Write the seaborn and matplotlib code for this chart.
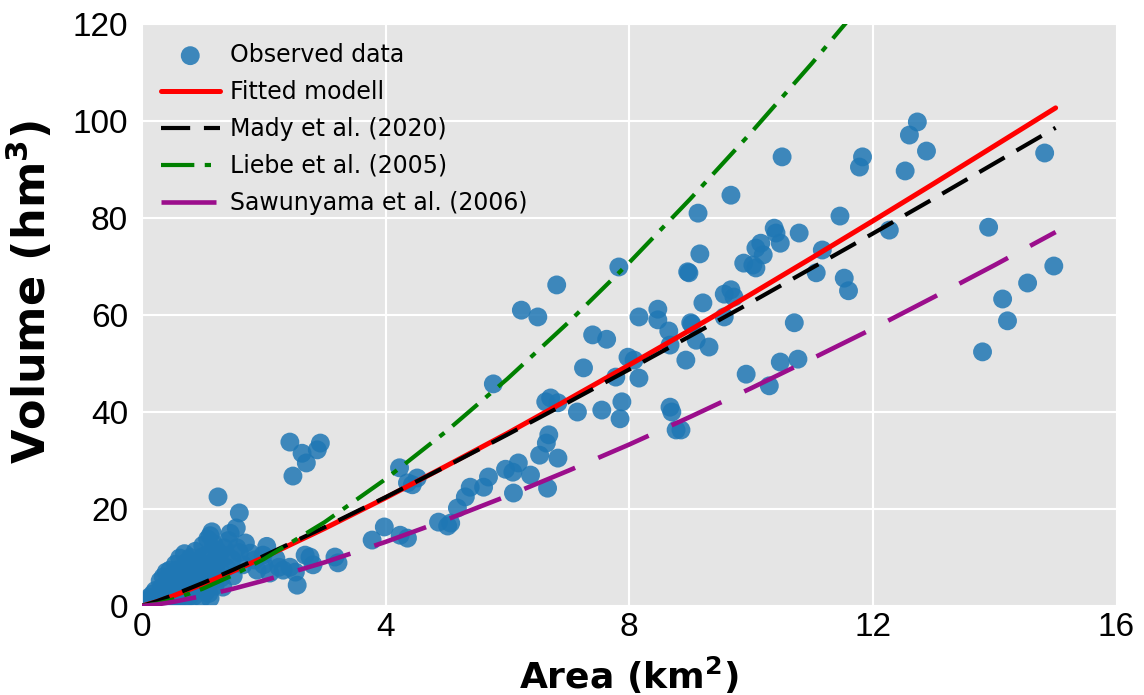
import numpy as np
import pandas as pd
import matplotlib
matplotlib.use("Agg")
import matplotlib.pyplot as plt
import seaborn as sns

# ---------------------------------------------------------------
# Observed reservoirs (area in km2, volume in hm3)
# ---------------------------------------------------------------
area = [
    0.00, 0.03, 0.05, 0.08, 0.10, 0.12, 0.15, 0.18, 0.20, 0.22, 0.25, 0.27,
    0.30, 0.32, 0.35, 0.35, 0.37, 0.40, 0.42, 0.45, 0.46, 0.47, 0.50, 0.52,
    0.55, 0.57, 0.58, 0.60, 0.62, 0.63, 0.65, 0.68, 0.70, 0.72, 0.74, 0.76,
    0.80, 0.82, 0.85, 0.88, 0.90, 0.92, 0.95, 0.98, 1.00, 1.02, 1.05, 1.08,
    1.10, 1.12, 1.15, 1.17, 1.20, 1.23, 1.25, 1.28, 1.33, 1.40, 1.45, 1.50,
    1.55, 1.56, 1.60, 1.66, 1.78, 1.89, 1.99, 2.10, 2.32, 2.55,
    0.30, 0.40, 0.45, 0.50, 0.55, 0.60, 0.65, 0.70, 0.75, 0.78, 0.80, 0.85,
    0.88, 0.90, 0.95, 1.00, 1.02, 1.05, 1.08, 1.10, 1.12, 1.18, 1.20, 1.22,
    1.28, 1.30, 1.35, 1.38, 1.42, 1.48, 1.60, 1.70, 1.85, 2.00, 2.05, 2.20,
    2.25,
    2.43, 2.63, 2.93, 2.88, 2.70, 2.48, 2.76, 2.81, 2.68, 2.43, 2.52, 3.17,
    3.22, 3.78, 3.98, 4.24, 4.36, 4.23, 4.36, 4.52, 4.44, 4.87, 5.02, 5.07,
    5.18, 5.31, 5.39, 5.61, 5.69, 5.97, 6.09, 6.18, 6.38, 6.10, 6.66, 6.53,
    6.83, 6.64, 6.68, 5.77, 6.71, 6.83, 6.63, 7.15, 7.55, 7.88, 7.85, 8.67,
    8.70, 8.77, 8.85, 6.23, 6.50, 6.81, 7.83, 7.40, 7.63, 7.25, 7.98, 8.08,
    8.16, 7.78, 8.16, 8.47, 8.47, 8.65, 9.03, 8.67, 8.98, 8.93, 9.10, 9.31,
    9.01, 9.21, 9.56, 9.72, 9.56, 9.67, 9.16, 8.96, 9.13, 9.67, 9.88, 10.03,
    10.08, 10.08, 10.16, 10.20, 10.38, 10.41, 10.48, 10.79, 10.51, 10.71, 9.92,
    10.48, 10.77, 10.30, 11.17, 11.07, 11.53, 11.60, 11.46, 11.83, 11.78,
    12.27, 12.53, 12.60, 12.73, 12.88, 13.90, 13.80, 14.13, 14.21, 14.54,
    14.82, 14.97,
]
volume = [
    0.2, 0.8, 0.3, 1.2, 0.5, 1.8, 0.4, 2.5, 1.0, 3.2, 0.6, 2.0,
    1.4, 3.8, 0.8, 6.0, 2.6, 4.5, 1.2, 3.1, 7.4, 6.0, 0.9, 2.2,
    4.0, 7.4, 5.4, 1.5, 9.9, 5.4, 2.8, 0.9, 3.6, 8.9, 6.4, 1.8,
    4.6, 2.5, 9.2, 5.6, 8.0, 3.3, 6.0, 1.6, 10.2, 4.2, 7.1, 13.8,
    2.6, 1.6, 15.3, 5.4, 9.5, 11.5, 22.5, 7.6, 3.9, 10.4, 15.0, 6.2,
    16.1, 12.0, 19.2, 8.5, 10.9, 7.4, 10.5, 6.8, 7.4, 4.3,
    5.2, 7.0, 2.2, 5.8, 8.6, 3.8, 6.8, 10.8, 4.0, 7.6, 10.0, 2.0,
    11.3, 4.6, 9.2, 12.5, 6.4, 3.0, 10.5, 7.8, 14.5, 12.8, 4.2, 8.4,
    10.8, 5.8, 12.0, 8.0, 13.5, 9.6, 11.0, 13.0, 9.5, 8.5, 12.3, 9.8,
    8.0,
    33.8, 31.5, 33.6, 32.2, 29.5, 26.8, 10.1, 8.5, 10.5, 8.0, 7.0, 10.1,
    8.9, 13.6, 16.3, 14.6, 14.0, 28.5, 25.4, 26.4, 25.0, 17.3, 16.5, 17.1,
    20.2, 22.5, 24.5, 24.5, 26.6, 28.2, 27.6, 29.5, 27.0, 23.3, 24.3, 31.1,
    30.5, 33.6, 35.3, 45.8, 42.9, 41.9, 42.1, 40.0, 40.4, 42.1, 38.6, 41.0,
    40.0, 36.3, 36.3, 61.0, 59.6, 66.2, 69.9, 55.9, 55.0, 49.1, 51.3, 50.7,
    47.0, 47.2, 59.6, 61.2, 59.0, 56.7, 58.1, 53.8, 68.7, 50.7, 54.8, 53.4,
    58.4, 62.5, 59.6, 63.7, 64.3, 65.2, 72.6, 68.9, 81.0, 84.7, 70.7, 70.3,
    69.7, 73.8, 74.8, 72.4, 77.9, 76.9, 74.8, 76.9, 92.6, 58.4, 47.8,
    50.3, 50.9, 45.4, 73.4, 68.7, 67.6, 65.0, 80.4, 92.6, 90.5,
    77.5, 89.7, 97.1, 99.8, 93.8, 78.1, 52.4, 63.3, 58.8, 66.6,
    93.4, 70.1,
]

# ---------------------------------------------------------------
# Model curves, values at these areas
# ---------------------------------------------------------------
curve_area = [0, 0.25, 0.5, 1, 1.5, 2, 3, 4, 5, 6, 7, 8, 9, 10, 11, 12, 13, 14, 15]
fitted = [0, 0.91, 2.02, 4.5, 7.19, 10.02, 16.0, 22.3, 28.9, 35.6, 42.6, 49.7,
          56.9, 64.3, 71.8, 79.4, 87.1, 94.9, 102.7]
mady = [0, 1.01, 2.19, 4.75, 7.48, 10.32, 16.26, 22.44, 28.81, 35.34, 42.0, 48.77,
        55.65, 62.6, 69.7, 76.8, 84.0, 91.3, 98.6]
liebe_area = [0, 0.25, 0.5, 1, 1.5, 2, 3, 4, 5, 6, 7, 8, 9, 10, 11, 12]
liebe = [0, 0.49, 1.32, 3.57, 6.39, 9.66, 17.3, 26.16, 36.05, 46.84, 58.45, 70.8,
         83.9, 97.6, 111.9, 126.8]
sawunyama = [0, 0.33, 0.83, 2.08, 3.57, 5.24, 9.01, 13.22, 17.8, 22.7, 27.9, 33.3,
             39.0, 44.9, 51.0, 57.2, 63.7, 70.3, 77.1]

obs = pd.DataFrame({"Area": area, "Volume": volume})

sns.set_theme(style="darkgrid", rc={
    "axes.facecolor": "#E5E5E5",
    "grid.color": "white",
    "grid.linewidth": 1.5,
})
plt.rcParams["font.family"] = ["Liberation Sans", "DejaVu Sans"]

fig = plt.figure(figsize=(11.44, 6.95), dpi=100)
ax = fig.add_axes([0.124, 0.128, 0.852, 0.8375])

sns.scatterplot(data=obs, x="Area", y="Volume", ax=ax, s=185, color="#1f77b4",
                alpha=0.85, edgecolor="none", label="Observed data", zorder=2)

sns.lineplot(x=curve_area, y=fitted, ax=ax, color="red", lw=3.6,
             label="Fitted modell", zorder=3)
sns.lineplot(x=curve_area, y=mady, ax=ax, color="black", lw=3,
             label="Mady et al. (2020)", zorder=3)
ax.lines[-1].set_dashes([7, 3.3])
sns.lineplot(x=liebe_area, y=liebe, ax=ax, color="green", lw=3,
             label="Liebe et al. (2005)", zorder=3)
ax.lines[-1].set_dashes([8, 2.5, 1.5, 2.5])
sns.lineplot(x=curve_area, y=sawunyama, ax=ax, color="#9B0E8C", lw=3.3,
             label="Sawunyama et al. (2006)", zorder=3)
ax.lines[-1].set_dashes([12, 5.5])

ax.set_xlim(0, 16)
ax.set_ylim(0, 120)
ax.set_xticks([0, 4, 8, 12, 16])
ax.set_yticks([0, 20, 40, 60, 80, 100, 120])
ax.tick_params(axis="both", labelsize=24, length=0, colors="black")
ax.tick_params(axis="x", pad=4)
ax.tick_params(axis="y", pad=10)

ax.set_xlabel(r"Area (km$^{\mathbf{2}}$)", fontsize=26, fontweight="bold",
              family="DejaVu Sans", color="black", labelpad=9)
ax.set_ylabel(r"Volume (hm$^{\mathbf{3}}$)", fontsize=32, fontweight="bold",
              family="DejaVu Sans", color="black")
ax.yaxis.set_label_coords(-0.089, 0.54)

leg = ax.legend(loc="upper left", frameon=False, prop={"family": "DejaVu Sans", "size": 17},
                handlelength=2.5, handletextpad=0.45, labelspacing=0.55,
                borderaxespad=0.3, borderpad=0.5)
for t in leg.get_texts():
    t.set_color("black")

fig.savefig("out.png", dpi=100)
